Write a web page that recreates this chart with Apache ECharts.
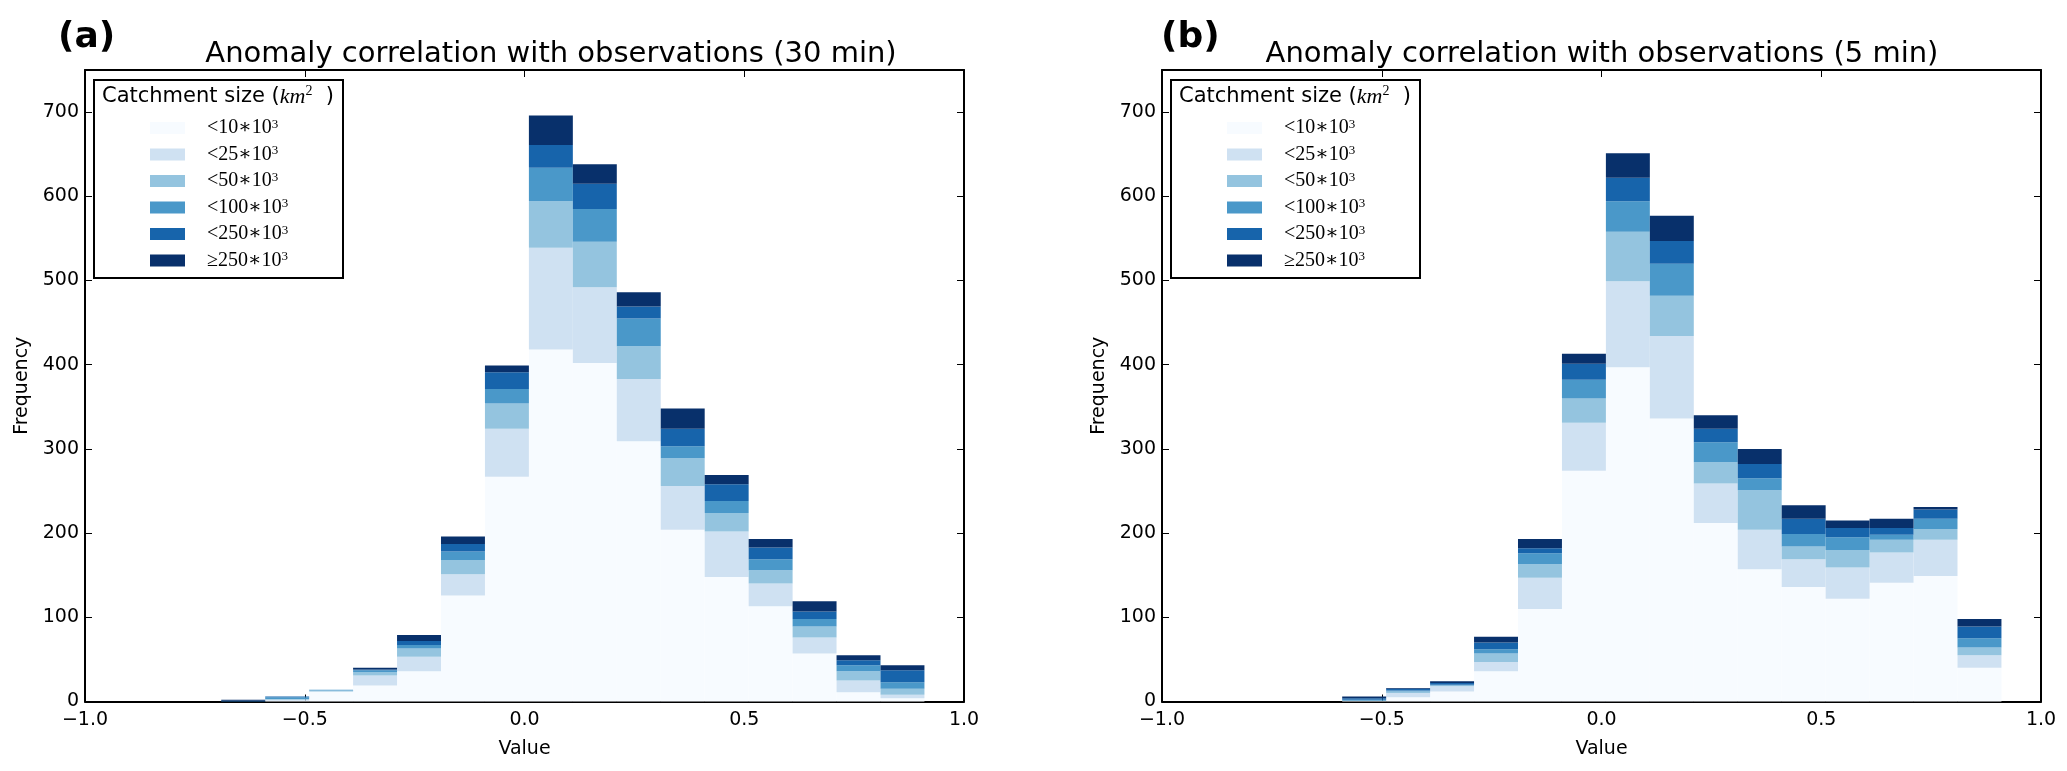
<!DOCTYPE html>
<html><head><meta charset="utf-8">
<script src="https://cdn.jsdelivr.net/npm/echarts@6/dist/echarts.min.js"></script>
<style>html,body{margin:0;padding:0;background:#fff}#c{width:2067px;height:771px}</style>
</head><body><div id="c"></div>
<script>
// ---------- data ----------
const layerNames = ['<10', '<25', '<50', '<100', '<250', '≥250'];
const layerColors = ['#f7fbff', '#cfe1f2', '#94c4df', '#4a98c9', '#1764ab', '#08306b'];

// (a) 30 min: bin edges
const edges30 = [-0.69, -0.59, -0.49, -0.39, -0.29, -0.19, -0.09, 0.01, 0.11, 0.21, 0.31, 0.41, 0.51, 0.61, 0.71, 0.81, 0.91];
const a_lt10  = [0, 1, 12, 19, 36, 126, 267, 418, 402, 309, 204, 148, 113, 57, 11, 4];
const a_lt25  = [0, 1, 0, 12, 17, 25, 57, 121, 90, 74, 52, 54, 27, 19, 14, 4];
const a_lt50  = [0, 1, 1, 4, 10, 17, 30, 55, 54, 39, 33, 22, 16, 13, 11, 7];
const a_lt100 = [0, 2, 1, 2, 4, 10, 17, 40, 39, 33, 14, 14, 13, 9, 7, 8];
const a_lt250 = [1, 1, 0, 1, 5, 9, 20, 27, 30, 14, 21, 20, 14, 9, 6, 14];
const a_ge250 = [1, 0, 0, 2, 7, 9, 8, 35, 23, 17, 24, 11, 10, 12, 6, 6];

// (b) 5 min: bin edges
const edges5 = [-0.59, -0.49, -0.39, -0.29, -0.19, -0.09, 0.01, 0.11, 0.21, 0.31, 0.41, 0.51, 0.61, 0.71, 0.81, 0.91];
const b_lt10  = [1, 5, 12, 36, 110, 274, 397, 336, 212, 157, 136, 122, 141, 149, 40];
const b_lt25  = [0, 5, 6, 11, 37, 57, 102, 98, 47, 47, 33, 37, 36, 43, 15];
const b_lt50  = [0, 2, 1, 10, 16, 29, 59, 48, 25, 47, 15, 21, 15, 13, 9];
const b_lt100 = [1, 1, 1, 5, 13, 22, 36, 38, 24, 14, 15, 15, 6, 12, 11];
const b_lt250 = [2, 2, 2, 8, 6, 19, 28, 27, 16, 17, 18, 11, 8, 11, 14];
const b_ge250 = [2, 1, 2, 7, 11, 12, 29, 30, 16, 18, 16, 9, 11, 3, 9];

const xTicks = [-1.0, -0.5, 0.0, 0.5, 1.0];
const yTicks = [0, 100, 200, 300, 400, 500, 600, 700];

const titles = ['Anomaly correlation with observations (30 min)', 'Anomaly correlation with observations (5 min)'];
const panelLabels = ['(a)', '(b)'];

// ---------- build ----------
const panels = [
  {edges: edges30, layers: [a_lt10, a_lt25, a_lt50, a_lt100, a_lt250, a_ge250]},
  {edges: edges5,  layers: [b_lt10, b_lt25, b_lt50, b_lt100, b_lt250, b_ge250]}
];
const gridLeft = [85, 1162];
const gridW = 879, gridTop = 70, gridH = 631.5;
const titleCenter = [551, 1602];
const labelLeft = [58, 1161];
const FONT = 'DejaVu Sans';
const SERIF = 'Liberation Serif, DejaVu Serif, serif';

function fmtX(v) {
  if (Math.abs(v) < 1e-9) return '0.0';
  return (v < 0 ? '\u2212' : '') + Math.abs(v).toFixed(1);
}

const grids = [], xAxes = [], yAxes = [], series = [], legends = [], title = [], graphics = [];

panels.forEach((p, g) => {
  grids.push({left: gridLeft[g], top: gridTop, width: gridW, height: gridH, containLabel: false});
  const axLine = {show: true, onZero: false, lineStyle: {color: '#000', width: 2}};
  const tick = {show: true, inside: true, length: 7, lineStyle: {color: '#000', width: 1}};
  xAxes.push({
    type: 'value', gridIndex: g, min: -1, max: 1, interval: 0.5, position: 'bottom',
    axisLine: axLine, axisTick: tick, splitLine: {show: false},
    axisLabel: {formatter: fmtX, color: '#000', fontFamily: FONT, fontSize: 19, margin: 9},
    name: 'Value', nameLocation: 'middle', nameGap: 38,
    nameTextStyle: {color: '#000', fontFamily: FONT, fontSize: 19}
  });
  xAxes.push({
    type: 'value', gridIndex: g, min: -1, max: 1, interval: 0.5, position: 'top',
    axisLine: axLine, axisTick: tick, splitLine: {show: false}, axisLabel: {show: false}
  });
  yAxes.push({
    type: 'value', gridIndex: g, min: 0, max: 750, interval: 100, position: 'left',
    axisLine: axLine, axisTick: tick, splitLine: {show: false},
    axisLabel: {formatter: v => (yTicks.indexOf(v) >= 0 ? String(v) : ''), color: '#000', fontFamily: FONT, fontSize: 19, margin: 6},
    name: 'Frequency', nameLocation: 'middle', nameGap: 53, nameRotate: 90,
    nameTextStyle: {color: '#000', fontFamily: FONT, fontSize: 19}
  });
  yAxes.push({
    type: 'value', gridIndex: g, min: 0, max: 750, interval: 100, position: 'right',
    axisLine: axLine, axisTick: tick, splitLine: {show: false}, axisLabel: {show: false}
  });

  const nb = p.edges.length - 1;
  const base = new Array(nb).fill(0);
  p.layers.forEach((cnt, L) => {
    const data = [];
    for (let i = 0; i < nb; i++) {
      data.push([p.edges[i], p.edges[i + 1], base[i], base[i] + cnt[i]]);
      base[i] += cnt[i];
    }
    series.push({
      type: 'custom', name: layerNames[L], xAxisIndex: g * 2, yAxisIndex: g * 2,
      itemStyle: {color: layerColors[L]},
      encode: {x: [0, 1], y: [2, 3]},
      data: data,
      renderItem: function (params, api) {
        const x0 = api.value(0), x1 = api.value(1), y0 = api.value(2), y1 = api.value(3);
        if (y1 <= y0) return null;
        const a = api.coord([x0, y0]), b = api.coord([x1, y1]);
        return {
          type: 'rect',
          shape: {x: a[0], y: b[1], width: b[0] - a[0], height: a[1] - b[1]},
          style: {fill: api.visual('color')}
        };
      },
      z: 2
    });
  });

  const off = gridLeft[g] - 85;
  legends.push({
    orient: 'vertical', left: 150 + off, top: 118, padding: 0, z: 30,
    itemWidth: 35, itemHeight: 12, itemGap: 6.5, icon: 'rect',
    data: layerNames.slice(),
    selectedMode: false,
    formatter: n => '{p|}{t|' + n + '\u221710}{s|3}',
    textStyle: {
      color: '#000', fontFamily: SERIF, fontSize: 20, lineHeight: 20,
      rich: {
        p: {width: 17},
        t: {fontFamily: SERIF, fontSize: 20, lineHeight: 20, color: '#000'},
        s: {fontFamily: SERIF, fontSize: 13, lineHeight: 18, verticalAlign: 'top', color: '#000'}
      }
    }
  });

  graphics.push({
    type: 'rect', left: 93 + off, top: 79, z: 3,
    shape: {width: 249, height: 198},
    style: {fill: '#fff', stroke: '#000', lineWidth: 2}
  });
  graphics.push({
    type: 'text', left: 102 + off, top: 84, z: 31,
    style: {
      text: '{a|Catchment size (}{i|km}{s|2}{a|  )}',
      rich: {
        a: {fontFamily: FONT, fontSize: 21, lineHeight: 26, fill: '#000'},
        i: {fontFamily: SERIF, fontStyle: 'italic', fontSize: 22, lineHeight: 26, fill: '#000'},
        s: {fontFamily: SERIF, fontSize: 14, lineHeight: 24, verticalAlign: 'top', fill: '#000'}
      }
    }
  });

  title.push({
    text: titles[g], left: titleCenter[g], top: 40, textAlign: 'center', padding: 0,
    textStyle: {fontFamily: FONT, fontSize: 29, fontWeight: 'normal', color: '#000'}
  });
  title.push({
    text: panelLabels[g], left: labelLeft[g], top: 20, padding: 0,
    textStyle: {fontFamily: FONT, fontSize: 36, fontWeight: 'bold', color: '#000'}
  });
});

const chart = echarts.init(document.getElementById('c'), null, {renderer: 'canvas'});
chart.setOption({
  animation: false,
  backgroundColor: '#fff',
  title: title,
  grid: grids,
  xAxis: xAxes,
  yAxis: yAxes,
  legend: legends,
  graphic: {elements: graphics},
  series: series
});
</script>
</body></html>
